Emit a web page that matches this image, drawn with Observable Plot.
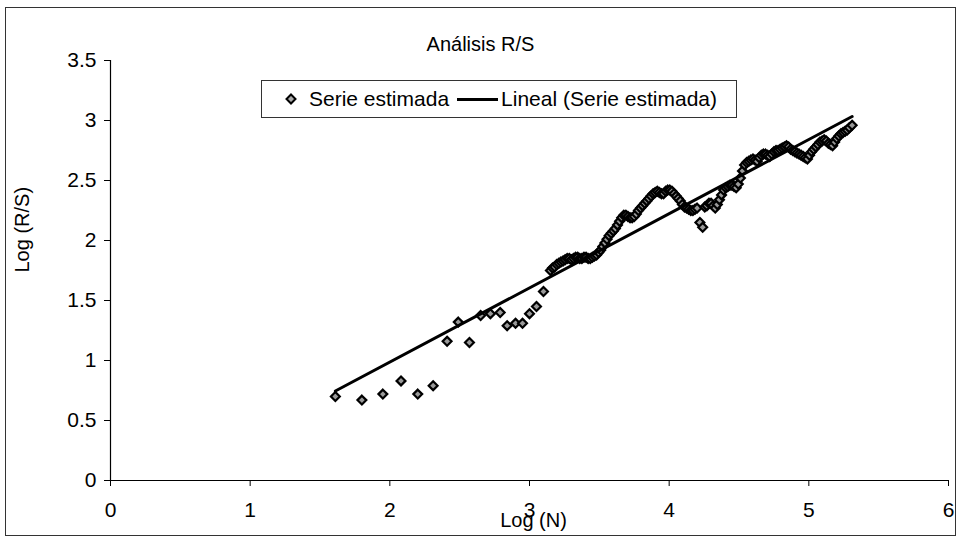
<!DOCTYPE html>
<html>
<head>
<meta charset="utf-8">
<script src="https://cdn.jsdelivr.net/npm/d3@7"></script>
<script src="https://cdn.jsdelivr.net/npm/@observablehq/plot@0.6"></script>
<style>
  body { margin: 0; background: #fff; font-family: "Liberation Sans", Arial, sans-serif; }
  #wrap { position: relative; width: 962px; height: 540px; overflow: hidden; }
  #frame { position: absolute; left: 5px; top: 7px; width: 951px; height: 529px; border: 1px solid #333; box-sizing: border-box; }
  #chart { position: absolute; left: 0; top: 0; }
  #legend { position: absolute; left: 261px; top: 80px; width: 476px; height: 38px; border: 1px solid #333; box-sizing: border-box; background: #fff;
            display: flex; align-items: center; font-size: 21px; color: #000; white-space: nowrap; }
  #legend .sym { margin-left: 23px; margin-right: 12px; display: inline-block; width: 12px; height: 12px; }
  #legend .ln { display: inline-block; width: 41px; height: 3px; background: #000; margin: 0 3px 0 8px; }
</style>
</head>
<body>
<div id="wrap">
  <div id="chart"></div>
  <div id="frame"></div>
  <div id="legend">
    <svg class="sym" viewBox="-6 -6 12 12"><path d="M0,-4.5L4.5,0L0,4.5L-4.5,0Z" fill="#aaa" stroke="#000" stroke-width="2"/></svg>
    <span>Serie estimada</span><span class="ln"></span><span>Lineal (Serie estimada)</span>
  </div>
</div>
<script>
const title = "Análisis R/S";
const xLabel = "Log (N)";
const yLabel = "Log (R/S)";
const xTicks = [0, 1, 2, 3, 4, 5, 6];
const yTicks = [0, 0.5, 1, 1.5, 2, 2.5, 3, 3.5];

const logN = [
  1.61, 1.80, 1.95, 2.08, 2.20, 2.31, 2.41, 2.49, 2.57, 2.65, 2.72, 2.79, 2.84, 2.90, 2.95, 3.00, 3.05, 3.10,
  3.150, 3.165, 3.180, 3.195, 3.210, 3.225, 3.240, 3.255, 3.270, 3.285, 3.300, 3.315, 3.330, 3.345, 3.360, 3.375,
  3.390, 3.405, 3.420, 3.435, 3.450, 3.465, 3.480, 3.495, 3.510, 3.525, 3.540, 3.555, 3.570, 3.585, 3.600, 3.615,
  3.630, 3.645, 3.660, 3.675, 3.690, 3.705, 3.720, 3.735, 3.750, 3.765, 3.780, 3.795, 3.810, 3.825, 3.840, 3.855,
  3.870, 3.885, 3.900, 3.915, 3.930, 3.945, 3.960, 3.975, 3.990, 4.005, 4.020, 4.035, 4.050, 4.065, 4.080, 4.095,
  4.110, 4.125, 4.140, 4.155, 4.170, 4.185, 4.200, 4.220, 4.240, 4.255, 4.270, 4.285, 4.300, 4.315, 4.330, 4.345,
  4.360, 4.375, 4.390, 4.405, 4.420, 4.435, 4.450, 4.465, 4.480, 4.495, 4.510, 4.525, 4.540, 4.555, 4.570, 4.585,
  4.600, 4.615, 4.630, 4.645, 4.660, 4.675, 4.690, 4.705, 4.720, 4.735, 4.750, 4.765, 4.780, 4.795, 4.810, 4.825,
  4.840, 4.855, 4.870, 4.885, 4.900, 4.915, 4.930, 4.945, 4.960, 4.975, 4.990, 5.005, 5.020, 5.035, 5.050, 5.065,
  5.080, 5.095, 5.110, 5.125, 5.140, 5.155, 5.170, 5.185, 5.200, 5.215, 5.230, 5.245, 5.260, 5.275, 5.290, 5.310
];
const logRS = [
  0.70, 0.67, 0.72, 0.83, 0.72, 0.79, 1.16, 1.32, 1.15, 1.375, 1.39, 1.40, 1.29, 1.31, 1.31, 1.39, 1.45, 1.575,
  1.75, 1.77, 1.78, 1.80, 1.81, 1.82, 1.83, 1.84, 1.85, 1.85, 1.84, 1.85, 1.86, 1.86, 1.85, 1.85,
  1.86, 1.86, 1.85, 1.85, 1.86, 1.87, 1.88, 1.90, 1.92, 1.95, 1.98, 2.01, 2.04, 2.06, 2.08, 2.10,
  2.13, 2.16, 2.19, 2.21, 2.21, 2.20, 2.19, 2.19, 2.20, 2.22, 2.25, 2.27, 2.29, 2.31, 2.33, 2.35,
  2.37, 2.39, 2.40, 2.41, 2.40, 2.39, 2.39, 2.41, 2.42, 2.42, 2.41, 2.39, 2.37, 2.35, 2.33, 2.30,
  2.28, 2.27, 2.26, 2.25, 2.25, 2.26, 2.27, 2.15, 2.11, 2.28, 2.29, 2.31, 2.31, 2.29, 2.27, 2.30,
  2.34, 2.38, 2.42, 2.44, 2.45, 2.46, 2.46, 2.45, 2.44, 2.47, 2.52, 2.58, 2.63, 2.65, 2.66, 2.67,
  2.68, 2.67, 2.66, 2.69, 2.71, 2.72, 2.72, 2.71, 2.70, 2.72, 2.74, 2.75, 2.75, 2.76, 2.77, 2.78,
  2.79, 2.78, 2.76, 2.75, 2.74, 2.73, 2.72, 2.71, 2.70, 2.69, 2.68, 2.71, 2.74, 2.76, 2.78, 2.80,
  2.82, 2.83, 2.84, 2.83, 2.81, 2.80, 2.79, 2.82, 2.85, 2.87, 2.89, 2.90, 2.91, 2.92, 2.94, 2.96
];

const data = logN.map((x, i) => ({x, y: logRS[i]}));

const chart = Plot.plot({
  width: 962,
  height: 540,
  marginLeft: 110,
  marginRight: 14,
  marginTop: 60,
  marginBottom: 60,
  style: {fontFamily: "'Liberation Sans', Arial, sans-serif", fontSize: "21px", color: "#000", background: "transparent"},
  x: {domain: [0, 6], ticks: xTicks, tickFormat: d => String(d), tickSize: 6, tickPadding: 16, label: null},
  y: {domain: [0, 3.5], ticks: yTicks, tickFormat: d => String(d), tickSize: 6, tickPadding: 8, label: null},
  marks: [
    Plot.ruleX([0], {stroke: "#000", strokeWidth: 1.2}),
    Plot.ruleY([0], {stroke: "#000", strokeWidth: 1.2}),
    Plot.dot(data, {x: "x", y: "y", symbol: "diamond2", r: 4, fill: "#999", stroke: "#000", strokeWidth: 2.2}),
    Plot.linearRegressionY(data, {x: "x", y: "y", ci: 0, stroke: "#000", strokeWidth: 3}),
    Plot.text([title], {frameAnchor: "top", dx: -49, dy: -24, fontSize: 20}),
    Plot.text([xLabel], {frameAnchor: "bottom", dx: 4, dy: 46, fontSize: 20}),
    Plot.text([yLabel], {frameAnchor: "left", rotate: -90, dx: -88, dy: 2, fontSize: 20})
  ]
});
document.getElementById("chart").appendChild(chart);
</script>
</body>
</html>
